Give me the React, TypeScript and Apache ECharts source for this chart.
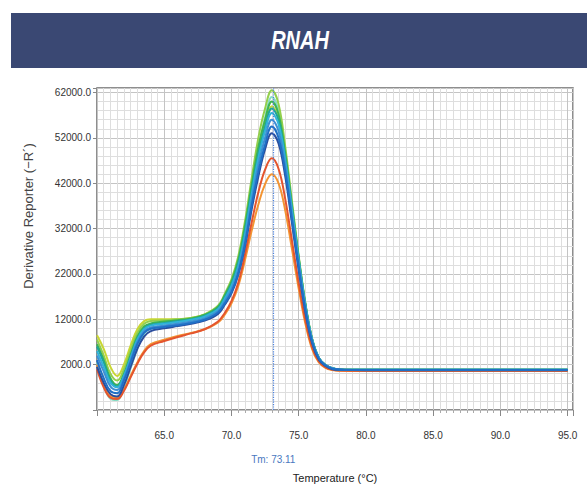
import React, { useEffect, useRef } from "react";
import * as echarts from "echarts";

// Temperature sample points (°C)
const temps = [60, 60.5, 61, 61.5, 62, 62.5, 63, 63.5, 64, 65, 66, 67, 68, 69, 69.5, 70, 70.5, 71, 71.5, 72, 72.5, 73, 73.5, 74, 74.5, 75, 75.5, 76, 76.5, 77, 77.5, 78, 80, 85, 90, 95];

// Derivative reporter values per well
const wellMint = [2500, -2500, -5500, -5800, -3000, 1200, 5500, 8800, 10000, 10600, 11000, 11500, 12300, 14000, 16300, 19300, 24000, 31500, 41000, 49500, 56500, 61000, 58000, 49000, 37300, 25600, 15200, 7500, 3400, 1850, 1150, 950, 850, 850, 850, 850];
const wellYellowGreen = [8500, 5500, 1500, -500, 2000, 6200, 9800, 11600, 12000, 12000, 12000, 12300, 13000, 14800, 17200, 20200, 24800, 32000, 41000, 49500, 55500, 59000, 56000, 47500, 36200, 25000, 15000, 7400, 3400, 1800, 1150, 950, 850, 850, 850, 850];
const wellLightGreen = [7500, 4000, 0, -1500, 1000, 5200, 9000, 11000, 11600, 11800, 12000, 12300, 13100, 15000, 17600, 20800, 25800, 33500, 43000, 52000, 58500, 62500, 59500, 50000, 38000, 26000, 15500, 7700, 3500, 1900, 1200, 950, 850, 850, 850, 850];
const wellOrange = [2000, -2500, -5000, -5300, -3500, -500, 2500, 5000, 6500, 7500, 8300, 9000, 9800, 11300, 13000, 15500, 19300, 25000, 31500, 37300, 41800, 44000, 42000, 36000, 27500, 18800, 11000, 5400, 2500, 1300, 800, 650, 600, 600, 600, 600];
const wellRedOrange = [1000, -3000, -5300, -5600, -3800, -800, 2200, 4700, 6200, 7200, 8100, 8900, 9800, 11500, 13400, 16000, 20000, 26200, 33300, 40000, 45000, 47500, 45200, 38500, 29300, 20000, 11800, 5800, 2700, 1400, 900, 700, 650, 650, 650, 650];
const wellGreen = [6500, 3000, -1000, -2500, 0, 4200, 8200, 10400, 11100, 11500, 11800, 12200, 13000, 14800, 17300, 20300, 25000, 32500, 41500, 50000, 56000, 60000, 57200, 48500, 37000, 25600, 15300, 7600, 3500, 1900, 1200, 950, 850, 850, 850, 850];
const wellTeal = [6000, 2500, -1500, -2800, -300, 3800, 7800, 10000, 10800, 11200, 11600, 12000, 12800, 14500, 16900, 19800, 24300, 31500, 40500, 48500, 54500, 58500, 56000, 47800, 36500, 25300, 15200, 7600, 3500, 1900, 1200, 950, 850, 850, 850, 850];
const wellCyan = [5000, 1500, -2000, -3000, -500, 3500, 7500, 9800, 10600, 11000, 11400, 11900, 12600, 14200, 16500, 19300, 23600, 30500, 39500, 47500, 53500, 57500, 55000, 47000, 36000, 25000, 15000, 7500, 3500, 1900, 1200, 950, 850, 850, 850, 850];
const wellSteelBlue = [4000, 500, -2800, -3600, -1000, 3000, 7000, 9300, 10200, 10600, 11000, 11500, 12200, 13800, 16000, 18600, 22800, 29500, 38200, 46000, 52000, 56000, 53500, 45800, 35000, 24300, 14600, 7300, 3400, 1900, 1200, 950, 850, 850, 850, 850];
const wellDarkBlue = [1500, -2000, -4500, -5000, -2500, 1500, 5500, 8200, 9400, 10000, 10500, 11000, 11700, 13200, 15200, 17700, 21800, 28000, 36200, 43500, 49500, 53000, 50800, 43500, 33200, 22800, 13500, 6700, 3100, 1700, 1000, 850, 750, 750, 750, 750];
const wellBlue = [3000, -1000, -3800, -4300, -1500, 2500, 6500, 9000, 9900, 10300, 10700, 11200, 11900, 13500, 15500, 18000, 22000, 28500, 37000, 44500, 50500, 54500, 52000, 44500, 34000, 23500, 14000, 7000, 3300, 1800, 1100, 900, 800, 800, 800, 800];

const wells = [
  { name: "W1", values: wellMint, color: "#86dcc4" },
  { name: "W2", values: wellYellowGreen, color: "#c9d633" },
  { name: "W3", values: wellLightGreen, color: "#93cf4c" },
  { name: "W4", values: wellOrange, color: "#f39432" },
  { name: "W5", values: wellRedOrange, color: "#e4552e" },
  { name: "W6", values: wellGreen, color: "#3fb54f" },
  { name: "W7", values: wellTeal, color: "#1fa597" },
  { name: "W8", values: wellCyan, color: "#30b3d9" },
  { name: "W9", values: wellSteelBlue, color: "#3d8fd4" },
  { name: "W10", values: wellDarkBlue, color: "#2b4e9e" },
  { name: "W11", values: wellBlue, color: "#1f70c6" },
];

const tmValue = 73.11;
const yTickLabels = [2000, 12000, 22000, 32000, 42000, 52000, 62000];
const xTickLabels = [65, 70, 75, 80, 85, 90, 95];

export default function App() {
  const ref = useRef<HTMLDivElement>(null);
  useEffect(() => {
    document.body.style.margin = "0";
    if (!ref.current) return;
    const chart = echarts.init(ref.current, null, { renderer: "svg" });
    const labelFont = "'Liberation Sans', Arial, sans-serif";
    const series: any[] = wells.map((w) => ({
      name: w.name,
      type: "line",
      data: temps.map((t, i) => [t, w.values[i]]),
      smooth: 0.4,
      showSymbol: false,
      lineStyle: { color: w.color, width: 2 },
      itemStyle: { color: w.color },
    }));
    series[series.length - 1].markLine = {
      silent: true,
      symbol: "none",
      lineStyle: { color: "#4a80dc", type: "dotted", width: 1.2, opacity: 1 },
      label: {
        show: true,
        position: "start",
        distance: 44,
        formatter: "Tm: " + tmValue.toFixed(2),
        color: "#4a78c0",
        fontSize: 10,
        fontFamily: labelFont,
      },
      data: [{ xAxis: tmValue, lineStyle: { color: "#4a80dc", type: "dotted", width: 1.2 } }],
    };
    chart.setOption({
      animation: false,
      backgroundColor: "#ffffff",
      grid: {
        left: 97,
        right: 14,
        top: 88,
        bottom: 78,
        show: true,
        backgroundColor: "#ffffff",
        borderColor: "#6a6a6a",
        borderWidth: 1.5,
      },
      xAxis: {
        type: "value",
        min: 60,
        max: 95.4,
        interval: 5,
        name: "Temperature (°C)",
        nameLocation: "middle",
        nameGap: 62,
        nameTextStyle: { color: "#222", fontSize: 11, fontFamily: labelFont },
        axisLine: { show: false, onZero: false },
        axisTick: { show: true, length: 6, lineStyle: { color: "#888" } },
        minorTick: { show: true, splitNumber: 10, length: 3, lineStyle: { color: "#aaa" } },
        axisLabel: {
          margin: 20,
          color: "#333",
          fontSize: 10,
          fontFamily: labelFont,
          formatter: (v: number) => (xTickLabels.includes(v) ? v.toFixed(1) : ""),
        },
        splitLine: { show: true, lineStyle: { color: "#c4c4c4", width: 1 } },
        minorSplitLine: { show: true, lineStyle: { color: "#dedede", width: 1 } },
      },
      yAxis: {
        type: "value",
        min: -8000,
        max: 63000,
        interval: 10000,
        axisLine: { show: false, onZero: false },
        axisTick: { show: true, length: 4, lineStyle: { color: "#888" } },
        minorTick: { show: false, splitNumber: 5 },
        axisLabel: {
          margin: 6,
          color: "#333",
          fontSize: 10,
          fontFamily: labelFont,
          formatter: (v: number) => (yTickLabels.includes(v) ? v.toFixed(1) : ""),
        },
        splitLine: { show: true, lineStyle: { color: "#c4c4c4", width: 1 } },
        minorSplitLine: { show: true, lineStyle: { color: "#dedede", width: 1 } },
      },
      graphic: [
        {
          type: "rect",
          shape: { x: 11, y: 13, width: 576, height: 55 },
          style: { fill: "#3a4873" },
          z: 10,
        },
        {
          type: "text",
          x: 300,
          y: 41,
          scaleX: 0.8,
          style: {
            text: "RNAH",
            fill: "#ffffff",
            font: "italic bold 25px 'Liberation Sans', Arial, sans-serif",
            textAlign: "center",
            textVerticalAlign: "middle",
          },
          z: 11,
        },
        {
          type: "text",
          x: 28,
          y: 216,
          rotation: Math.PI / 2,
          style: {
            text: "Derivative Reporter (−R´)",
            fill: "#444",
            font: "13px 'Liberation Sans', Arial, sans-serif",
            textAlign: "center",
            textVerticalAlign: "middle",
          },
          z: 11,
        },
      ],
      series,
    });
    return () => chart.dispose();
  }, []);
  return <div ref={ref} style={{ width: 587, height: 488 }} />;
}
